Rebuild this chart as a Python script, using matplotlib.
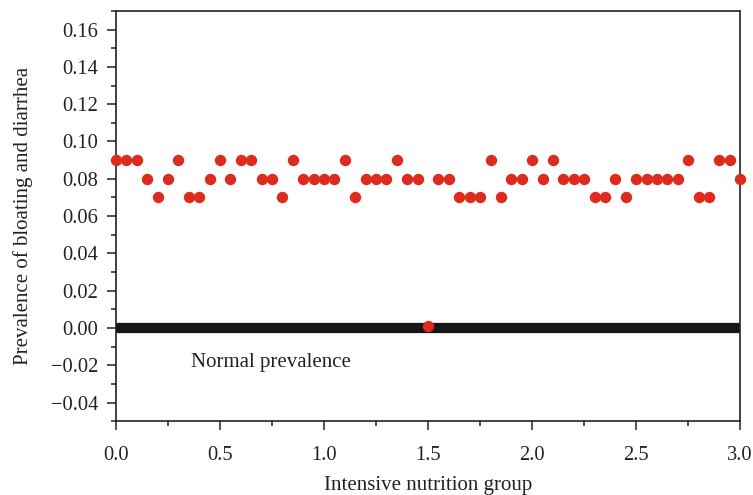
import numpy as np
import matplotlib.pyplot as plt
from matplotlib.ticker import MultipleLocator

plt.rcParams['font.family'] = ['Liberation Serif', 'DejaVu Serif']

# data
x_vals = np.round(np.arange(0, 61) * 0.05, 2)
prevalence = [0.09, 0.09, 0.09, 0.08, 0.07, 0.08, 0.09, 0.07, 0.07, 0.08,
              0.09, 0.08, 0.09, 0.09, 0.08, 0.08, 0.07, 0.09, 0.08, 0.08,
              0.08, 0.08, 0.09, 0.07, 0.08, 0.08, 0.08, 0.09, 0.08, 0.08,
              0.001,
              0.08, 0.08, 0.07, 0.07, 0.07, 0.09, 0.07, 0.08, 0.08, 0.09,
              0.08, 0.09, 0.08, 0.08, 0.08, 0.07, 0.07, 0.08, 0.07, 0.08,
              0.08, 0.08, 0.08, 0.08, 0.09, 0.07, 0.07, 0.09, 0.09, 0.08]
normal_x = [0.0, 3.0]
normal_y = [0.0, 0.0]
y_ticks = [-0.04, -0.02, 0.0, 0.02, 0.04, 0.06, 0.08, 0.10, 0.12, 0.14, 0.16]
x_ticks = [0.0, 0.5, 1.0, 1.5, 2.0, 2.5, 3.0]

fig = plt.figure(figsize=(7.53, 4.95), dpi=100)
ax = fig.add_axes([0.154, 0.149, 0.829, 0.829])

ax.plot(normal_x, normal_y, color='#161616', lw=7.4, solid_capstyle='butt', zorder=2)
ax.plot(x_vals, prevalence, 'o', color='#dd2c1f', ms=8.2, mec='none', zorder=3, clip_on=False)

ax.text(0.36, -0.0185, 'Normal prevalence', fontsize=15, va='center', ha='left', color='#222222')

ax.set_xlim(0, 3.0)
ax.set_ylim(-0.05, 0.17)
ax.xaxis.set_minor_locator(MultipleLocator(0.25))
ax.yaxis.set_minor_locator(MultipleLocator(0.01))
ax.set_yticks(y_ticks)
ax.set_yticklabels([f'{v:.2f}'.replace('-', '\u2212') for v in y_ticks])
ax.set_xticks(x_ticks)
ax.set_xticklabels([f'{v:.1f}' for v in x_ticks])

ax.tick_params(which='major', direction='out', length=6.5, width=1.1, labelsize=14.8,
               colors='#222222', pad=6)
ax.tick_params(axis='x', which='major', pad=11)
ax.tick_params(which='minor', direction='out', length=3.5, width=1.1, colors='#222222')
for s in ax.spines.values():
    s.set_linewidth(1.2)
    s.set_color('#222222')

ax.set_xlabel('Intensive nutrition group', fontsize=15, color='#222222', labelpad=8)
ax.set_ylabel('Prevalence of bloating and diarrhea', fontsize=15, color='#222222', labelpad=13)

fig.savefig('out.png', dpi=100)
